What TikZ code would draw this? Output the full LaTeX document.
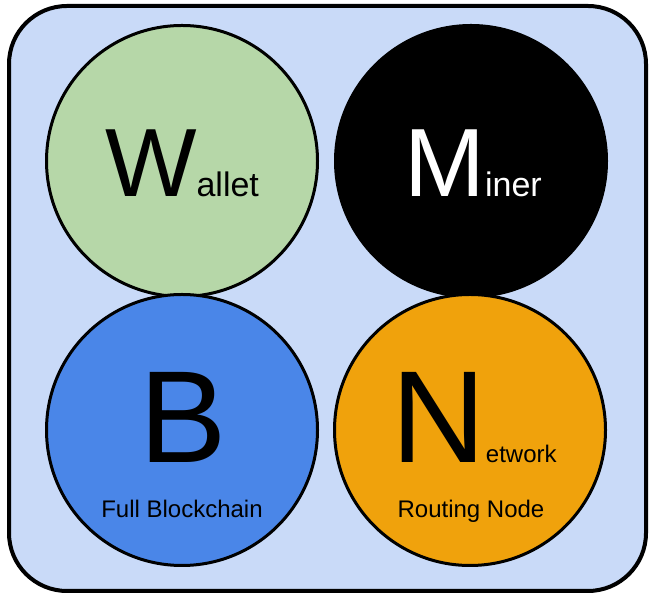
\documentclass[tikz,border=0pt]{standalone}
\usepackage{fontspec}
\setmainfont{Liberation Sans}
\definecolor{boxblue}{HTML}{C9DAF8}
\definecolor{walletgreen}{HTML}{B6D7A8}
\definecolor{chainblue}{HTML}{4A86E8}
\definecolor{netorange}{HTML}{F0A20C}
\newcommand{\bigletter}[1]{{\fontsize{97pt}{97pt}\selectfont #1}}
\newcommand{\hugeletter}[1]{{\fontsize{131pt}{131pt}\selectfont #1}}
\newcommand{\restword}[1]{{\fontsize{34pt}{34pt}\selectfont #1}}
\newcommand{\subword}[1]{{\fontsize{24pt}{24pt}\selectfont #1}}

\begin{document}
\begin{tikzpicture}[
					x = 1pt, y = 1pt,
					role/.style = {
						shape = circle,
						draw,
						line width = 3pt,
						minimum size = 271pt,
						inner sep = 0pt,
					},
					word/.style = {
						anchor = base,
						inner sep = 0pt,
					},
			]
				\useasboundingbox (0, 0) rectangle (653, 596);
				\draw[fill = boxblue, line width = 4pt, rounded corners = 58pt] (9, 5) rectangle (646, 590);

				\draw (182, 435) node (wallet) [role, fill = walletgreen] {};
				\draw (471, 435) node (miner) [role, fill = black] {};
				\draw (182, 166) node (chain) [role, fill = chainblue] {};
				\draw (470, 166) node (network) [role, fill = netorange] {};

				\node (walletname) [word] at (182, 399) {\bigletter{W}\restword{allet}};
				\node (minername) [word, text = white] at (473, 399) {\bigletter{M}\restword{iner}};
				\node (chainname) [word] at (183, 133) {\hugeletter{B}};
				\node (chainnote) [word] at (182, 78) {\subword{Full Blockchain}};
				\node (networkname) [word] at (474, 133) {\hugeletter{N}\subword{etwork}};
				\node (networknote) [word] at (471, 78) {\subword{Routing Node}};
			\end{tikzpicture}
\end{document}
